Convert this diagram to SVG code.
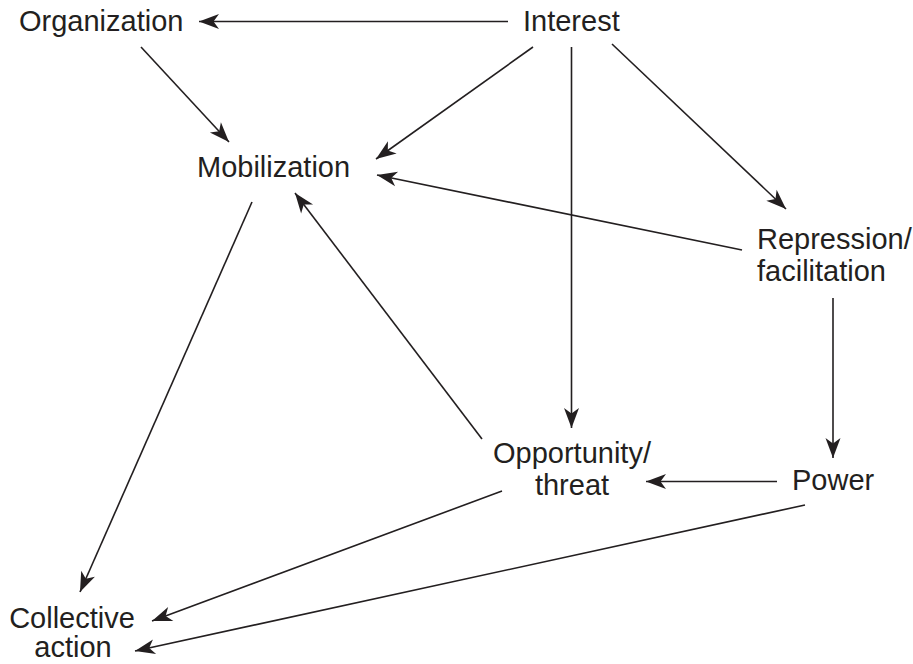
<svg xmlns="http://www.w3.org/2000/svg" width="913" height="664" viewBox="0 0 913 664">
<defs>
<marker id="ah" viewBox="-22 -9 24 18" refX="0" refY="0" markerWidth="24" markerHeight="18" markerUnits="userSpaceOnUse" orient="auto">
<path d="M0,0 L-20,-7.5 L-14.5,0 L-20,7.5 Z" fill="#231f20"/>
</marker>
<style>
text{font-family:"Liberation Sans",Arial,sans-serif;font-size:29px;fill:#231f20}
.c{text-anchor:middle}
.e{stroke:#231f20;stroke-width:1.6;fill:none;marker-end:url(#ah)}
</style>
</defs>
<rect width="913" height="664" fill="#fff"/>
<g id="connectors">
<line class="e" x1="508" y1="21.5" x2="199" y2="21.5"/>
<line class="e" x1="141" y1="47" x2="229" y2="142"/>
<line class="e" x1="533" y1="47" x2="376" y2="159"/>
<line class="e" x1="571.5" y1="47" x2="571.5" y2="428"/>
<line class="e" x1="612" y1="44" x2="786" y2="209"/>
<line class="e" x1="742" y1="250" x2="377" y2="175"/>
<line class="e" x1="833" y1="298" x2="833" y2="458"/>
<line class="e" x1="777" y1="481.5" x2="646" y2="481.5"/>
<line class="e" x1="482" y1="439" x2="295" y2="193"/>
<line class="e" x1="252" y1="202" x2="80" y2="592"/>
<line class="e" x1="502" y1="491" x2="152" y2="621"/>
<line class="e" x1="805" y1="505" x2="135" y2="651"/>
</g>
<g id="organization"><text x="19" y="31">Organization</text></g>
<g id="interest"><text x="523" y="31">Interest</text></g>
<g id="mobilization"><text x="197" y="177">Mobilization</text></g>
<g id="repression"><text x="757" y="249">Repression/</text><text x="757" y="281">facilitation</text></g>
<g id="opportunity"><text class="c" x="572" y="463">Opportunity/</text><text class="c" x="572" y="495">threat</text></g>
<g id="power"><text x="792" y="490">Power</text></g>
<g id="collective"><text class="c" x="72" y="628">Collective</text><text class="c" x="73" y="657">action</text></g>
</svg>
